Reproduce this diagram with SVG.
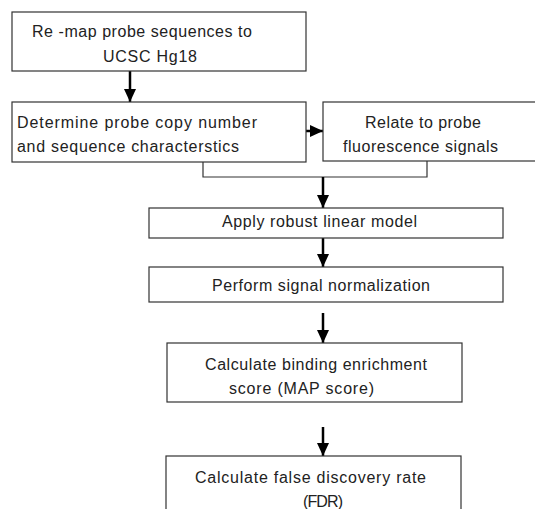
<svg xmlns="http://www.w3.org/2000/svg" width="535" height="509" viewBox="0 0 535 509">
<style>
.box{fill:#fff;stroke:#333;stroke-width:1.2}
.t{font-family:"Liberation Sans",Arial,sans-serif;font-size:16px;fill:#222}
.c{fill:none;stroke:#000;stroke-width:2.5}
.b{fill:none;stroke:#333;stroke-width:1.2}
</style>
<defs>
<marker id="ah" markerUnits="userSpaceOnUse" markerWidth="14" markerHeight="12" refX="13" refY="6" orient="auto">
<path d="M0,0 L13,6 L0,12 Z" fill="#000"/>
</marker>
</defs>
<rect width="535" height="509" fill="#fff"/>
<g id="connectors">
<path class="b" d="M203,162 V177 H427 V161"/>
<line class="c" x1="130" y1="71" x2="130" y2="102" marker-end="url(#ah)"/>
<line class="c" x1="306" y1="131" x2="323" y2="131" marker-end="url(#ah)"/>
<line class="c" x1="323" y1="177" x2="323" y2="208" marker-end="url(#ah)"/>
<line class="c" x1="323" y1="238" x2="323" y2="267" marker-end="url(#ah)"/>
<line class="c" x1="323" y1="313" x2="323" y2="343" marker-end="url(#ah)"/>
<line class="c" x1="323" y1="427" x2="323" y2="456" marker-end="url(#ah)"/>
</g>
<g id="n1">
<rect class="box" x="12" y="12" width="294" height="59"/>
<text class="t" x="32" y="37" textLength="220" lengthAdjust="spacing">Re -map probe sequences to</text>
<text class="t" x="103" y="62" textLength="94" lengthAdjust="spacing">UCSC Hg18</text>
</g>
<g id="n2">
<rect class="box" x="12" y="102" width="294" height="60"/>
<text class="t" x="17" y="128" textLength="240" lengthAdjust="spacing">Determine probe copy number</text>
<text class="t" x="17" y="152" textLength="222" lengthAdjust="spacing">and sequence characterstics</text>
</g>
<g id="n3">
<rect class="box" x="323" y="102" width="220" height="59"/>
<text class="t" x="365" y="128" textLength="116" lengthAdjust="spacing">Relate to probe</text>
<text class="t" x="343" y="152" textLength="155" lengthAdjust="spacing">fluorescence signals</text>
</g>
<g id="n4">
<rect class="box" x="149" y="208" width="354" height="30"/>
<text class="t" x="222" y="227" textLength="195" lengthAdjust="spacing">Apply robust linear model</text>
</g>
<g id="n5">
<rect class="box" x="149" y="267" width="354" height="35"/>
<text class="t" x="212" y="291" textLength="218" lengthAdjust="spacing">Perform signal normalization</text>
</g>
<g id="n6">
<rect class="box" x="167" y="343" width="295" height="59"/>
<text class="t" x="205" y="370" textLength="222" lengthAdjust="spacing">Calculate binding enrichment</text>
<text class="t" x="229" y="394" textLength="145" lengthAdjust="spacing">score (MAP score)</text>
</g>
<g id="n7">
<rect class="box" x="166" y="456" width="295" height="70"/>
<text class="t" x="195" y="483" textLength="231" lengthAdjust="spacing">Calculate false discovery rate</text>
<text class="t" x="303" y="507" textLength="40" lengthAdjust="spacing">(FDR)</text>
</g>
</svg>
